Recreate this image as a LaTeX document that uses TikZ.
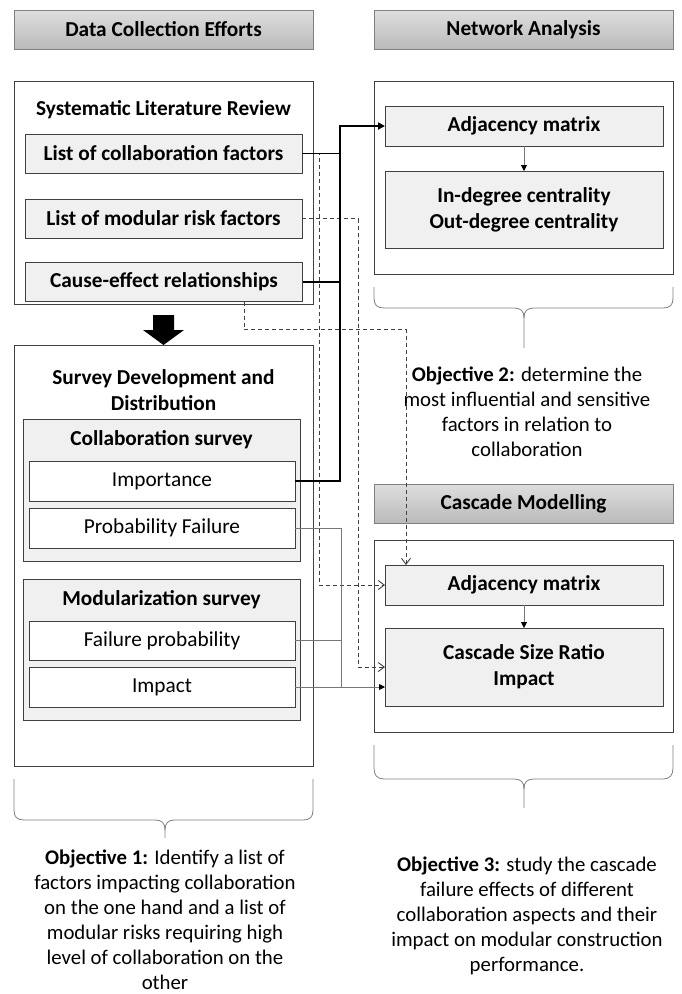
\documentclass[tikz,border=0pt]{standalone}
\usepackage{fontspec}
\setmainfont{Carlito}
\usetikzlibrary{arrows.meta}
\definecolor{boxfill}{HTML}{F0F0F0}
\definecolor{edge}{HTML}{404040}
\definecolor{hdtop}{HTML}{DEDEDE}
\definecolor{hdbot}{HTML}{BABABA}
\definecolor{hdedge}{HTML}{808080}
\definecolor{wire}{HTML}{777777}
\tikzset{
  txt/.style={font=\fontsize{21.3}{26}\selectfont},
  btxt/.style={font=\bfseries\fontsize{21.3}{26}\selectfont},
  header/.style={draw=hdedge, line width=0.9pt, top color=hdtop, bottom color=hdbot,
    inner sep=0pt, outer sep=0pt, btxt},
  frame/.style={draw=edge, line width=1pt, fill=white, inner sep=0pt, outer sep=0pt},
  panel/.style={draw=edge, line width=1pt, fill=boxfill, inner sep=0pt, outer sep=0pt},
  item/.style={draw=edge, line width=1pt, fill=boxfill, inner sep=0pt, outer sep=0pt, btxt, align=center},
  plain/.style={draw=edge, line width=1pt, fill=white, inner sep=0pt, outer sep=0pt, txt},
  heavy/.style={line width=1.8pt, black},
  dashlink/.style={line width=0.9pt, edge, dash pattern=on 4pt off 3pt},
  thinlink/.style={line width=0.9pt, wire},
  brace/.style={line width=0.8pt, hdedge},
  objtxt/.style={font=\fontsize{20.8}{25}\selectfont, align=center, inner sep=0pt},
  solidtip/.style={-{Triangle[length=7pt,width=7pt]}},
  opentip/.style={-{Straight Barb[length=6pt,width=9pt,line width=0.9pt]}},
  smalltip/.style={-{Triangle[length=6pt,width=6pt,fill=black,color=black]}}
}
\begin{document}
\begin{tikzpicture}[x=1pt,y=-1pt]
\useasboundingbox[fill=white] (0,0) rectangle (681,994);

% column headers
\node[header, minimum width=299pt, minimum height=39pt] (hdData) at (163.5,29.5) {Data Collection Efforts};
\node[header, minimum width=299pt, minimum height=39pt] (hdNet) at (523.5,29.5) {Network Analysis};
\node[header, minimum width=299pt, minimum height=39pt] (hdCas) at (523.5,503.5) {Cascade Modelling};

% literature review block
\node[frame, minimum width=299pt, minimum height=223pt] (slr) at (163.5,192.5) {};
\node[btxt] (slrTitle) at (163.5,110) {Systematic Literature Review};
\node[item, minimum width=277pt, minimum height=39pt] (lcf) at (163.5,153.5) {List of collaboration factors};
\node[item, minimum width=277pt, minimum height=39pt] (lmr) at (163.5,218.5) {List of modular risk factors};
\node[item, minimum width=277pt, minimum height=39pt] (cer) at (164,282) {Cause-effect relationships};

% block arrow between the two data blocks
\fill[black] (153,315) -- (174,315) -- (174,330) -- (184,330) -- (163.5,345) -- (143,330) -- (153,330) -- cycle;

% survey block
\node[frame, minimum width=299pt, minimum height=421pt] (srv) at (163.5,555.5) {};
\node[btxt, align=center] (srvTitle) at (163.5,390) {Survey Development and\\Distribution};
\node[panel, minimum width=277pt, minimum height=142pt] (colS) at (161.5,490) {};
\node[btxt] (colTitle) at (161.5,440) {Collaboration survey};
\node[plain, minimum width=266pt, minimum height=40pt] (imp) at (162,481) {Importance};
\node[plain, minimum width=266pt, minimum height=40pt] (pf) at (162,528) {Probability Failure};
\node[panel, minimum width=277pt, minimum height=141pt] (modS) at (161.5,649.5) {};
\node[btxt] (modTitle) at (161.5,600) {Modularization survey};
\node[plain, minimum width=266pt, minimum height=39pt] (fp) at (162,640.5) {Failure probability};
\node[plain, minimum width=266pt, minimum height=40pt] (impc) at (162,687) {Impact};

% network analysis block
\node[frame, minimum width=299pt, minimum height=193pt] (net) at (523.5,177.5) {};
\node[item, minimum width=278pt, minimum height=40pt] (adjA) at (524,126) {Adjacency matrix};
\node[item, minimum width=278pt, minimum height=77pt] (cent) at (524,209.5) {In-degree centrality\\Out-degree centrality};
\draw[thinlink, smalltip] (adjA) -- (cent);

% cascade modelling block
\node[frame, minimum width=299pt, minimum height=192pt] (cas) at (523.5,636) {};
\node[item, minimum width=278pt, minimum height=40pt] (adjB) at (524,585) {Adjacency matrix};
\node[item, minimum width=278pt, minimum height=78pt] (csr) at (524,667) {Cascade Size Ratio\\Impact};
\draw[thinlink, smalltip] (adjB) -- (csr);

% routing columns
\coordinate (busA) at (340,0);
\coordinate (busD) at (319,0);
\coordinate (busR) at (358,0);
\coordinate (busC) at (244,0);
\coordinate (busE) at (406,0);
\coordinate (busG) at (341,0);

% dashed links into the cascade model
\draw[dashlink, opentip] (lcf.east) -- (lcf.east -| busD) |- (adjB.west);
\draw[dashlink, opentip] (lmr.east) -- (lmr.east -| busR) |- (csr.west);
\draw[dashlink, opentip] (cer.south -| busC) -- ++(0,28) -| (adjB.north -| busE);

% thin grey links from the survey answers
\draw[thinlink] (pf.east) -- (pf.east -| busG) -- (impc.east -| busG);
\draw[thinlink] (fp.east) -- (fp.east -| busG);
\draw[thinlink, smalltip] (impc.east) -- (impc.east -| csr.west);

% heavy links into the network analysis
\draw[heavy] (imp.east) -- (imp.east -| busA) -- (lcf.east -| busA);
\draw[heavy] (cer.east) -- (cer.east -| busA);
\draw[heavy, solidtip] (lcf.east) -- (lcf.east -| busA) |- (adjA.west);

% braces
\draw[brace] (374,287) -- (374,298) .. controls (374,305) and (377,308) .. (384,308) -- (514,308)
  .. controls (521,308) and (524,311) .. (524,318) -- (524,348);
\draw[brace] (673,287) -- (673,298) .. controls (673,305) and (670,308) .. (663,308) -- (534,308)
  .. controls (527,308) and (524,311) .. (524,318);
\draw[brace] (374,745) -- (374,768) .. controls (374,775) and (377,779) .. (384,779) -- (514,779)
  .. controls (521,779) and (524,782) .. (524,789) -- (524,808);
\draw[brace] (673,745) -- (673,768) .. controls (673,775) and (670,779) .. (663,779) -- (534,779)
  .. controls (527,779) and (524,782) .. (524,789);
\draw[brace] (14,779) -- (14,810) .. controls (14,817) and (17,820) .. (24,820) -- (155,820)
  .. controls (162,820) and (165,823) .. (165,830) -- (165,838);
\draw[brace] (313,779) -- (313,810) .. controls (313,817) and (310,820) .. (303,820) -- (175,820)
  .. controls (168,820) and (165,823) .. (165,830);

% objectives
\node[objtxt] (obj2) at (527,412) {\textbf{Objective 2:} determine the\\most influential and sensitive\\factors in relation to\\collaboration};
\node[objtxt] (obj1) at (165,920) {\textbf{Objective 1:} Identify a list of\\factors impacting collaboration\\on the one hand and a list of\\modular risks requiring high\\level of collaboration on the\\other};
\node[objtxt] (obj3) at (527,916) {\textbf{Objective 3:} study the cascade\\failure effects of different\\collaboration aspects and their\\impact on modular construction\\performance.};
\end{tikzpicture}
\end{document}
